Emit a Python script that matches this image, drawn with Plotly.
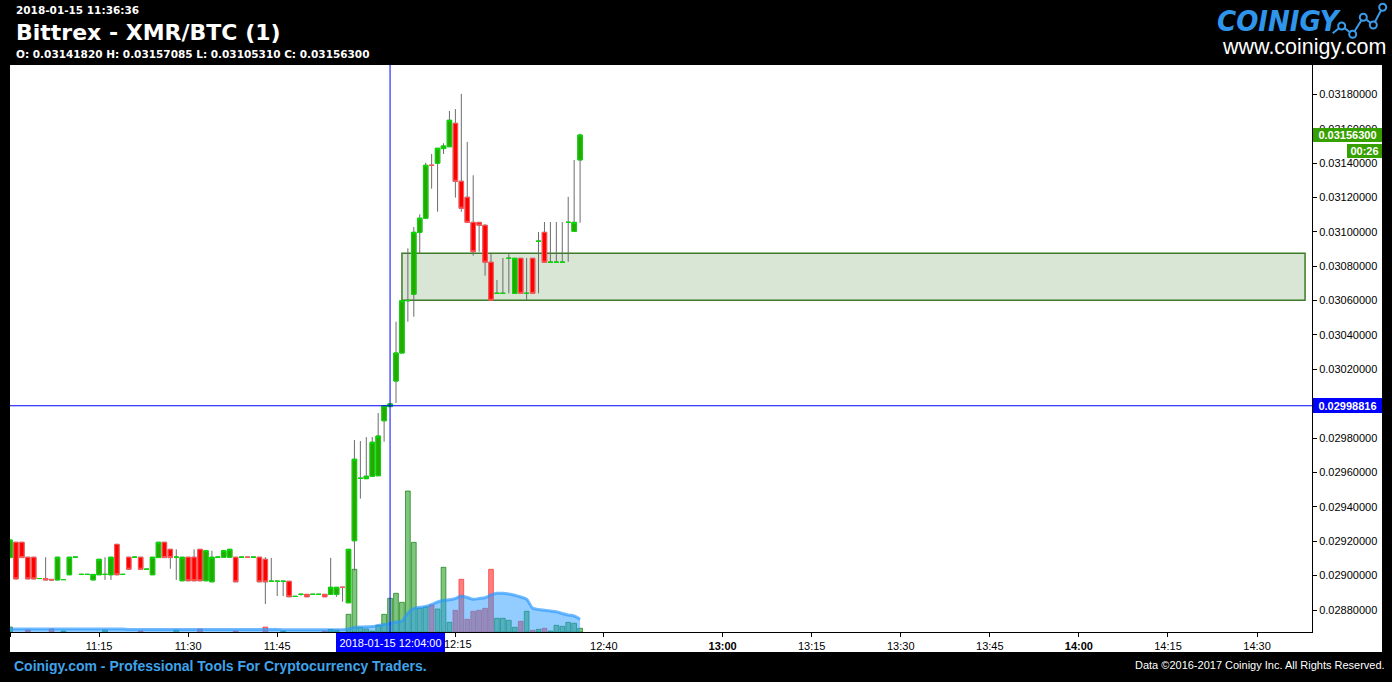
import pandas as pd
import plotly.graph_objects as go

# ---- 1-minute candles, Bittrex XMR/BTC, 2018-01-15 11:00 .. 12:36 ----
times = pd.date_range("2018-01-15 11:00", periods=97, freq="min")

opens = [
    0.029105, 0.029194, 0.029194, 0.029107, 0.029107, 0.028983, 0.028983, 0.028978, 0.028975, 0.028977,  # 11:00
    0.029005, 0.029107, 0.029007, 0.029007, 0.028975, 0.029005, 0.029007, 0.029005, 0.029182, 0.029007,  # 11:10
    0.029107, 0.029107, 0.029107, 0.029037, 0.029005, 0.029105, 0.029194, 0.029153, 0.029107, 0.028970,  # 11:20
    0.029107, 0.029107, 0.029153, 0.028970, 0.028964, 0.029107, 0.029107, 0.029107, 0.029107, 0.029107,  # 11:30
    0.029108, 0.029107, 0.029107, 0.029095, 0.028967, 0.028967, 0.028967, 0.028967, 0.028879, 0.028891,  # 11:40
    0.028891, 0.028891, 0.028891, 0.028891, 0.028891, 0.028891, 0.028933, 0.028842, 0.029203, 0.029566,  # 11:50
    0.029564, 0.029578, 0.029581, 0.029901, 0.029983, 0.030132, 0.030295, 0.030599, 0.030637, 0.030997,  # 12:00
    0.031079, 0.031388, 0.031399, 0.031484, 0.031495, 0.031631, 0.031294, 0.031201, 0.031055, 0.031055,  # 12:10
    0.031038, 0.030823, 0.030642, 0.030642, 0.030846, 0.030642, 0.030846, 0.030642, 0.030846, 0.030945,  # 12:20
    0.030997, 0.030823, 0.030823, 0.030823, 0.031055, 0.031003, 0.0314182,                              # 12:30
]
highs = [
    0.029207, 0.029194, 0.029194, 0.029107, 0.029107, 0.028983, 0.029107, 0.028978, 0.029107, 0.028977,
    0.029107, 0.029107, 0.029007, 0.029007, 0.029007, 0.029095, 0.029107, 0.029107, 0.029182, 0.029007,
    0.029107, 0.029107, 0.029107, 0.029037, 0.029107, 0.029194, 0.029194, 0.029153, 0.029153, 0.029107,
    0.029107, 0.029153, 0.029153, 0.029145, 0.029145, 0.029107, 0.029145, 0.029153, 0.029107, 0.029107,
    0.029108, 0.029107, 0.029107, 0.029107, 0.029103, 0.028967, 0.028967, 0.028967, 0.028879, 0.028891,
    0.028891, 0.028891, 0.028891, 0.028891, 0.029103, 0.028932, 0.028933, 0.029153, 0.029789, 0.029783,
    0.029806, 0.029806, 0.029946, 0.029987, 0.030002, 0.030477, 0.030599, 0.030904, 0.031028, 0.031102,
    0.031402, 0.031453, 0.031486, 0.031515, 0.031703, 0.031714, 0.031802, 0.031523, 0.031329, 0.031055,
    0.031044, 0.030875, 0.030720, 0.030848, 0.030875, 0.030846, 0.030846, 0.030848, 0.030846, 0.030999,
    0.031057, 0.031057, 0.031057, 0.031057, 0.031204, 0.031418, 0.03157085,
]
lows = [
    0.029105, 0.028981, 0.029105, 0.028981, 0.028981, 0.028983, 0.028975, 0.028975, 0.028975, 0.028977,
    0.029005, 0.029107, 0.029007, 0.029007, 0.028975, 0.029005, 0.028975, 0.028975, 0.029005, 0.029007,
    0.029037, 0.029107, 0.029037, 0.029037, 0.029005, 0.029105, 0.029105, 0.029040, 0.028975, 0.028970,
    0.028970, 0.028970, 0.028970, 0.028970, 0.028964, 0.029107, 0.029107, 0.029107, 0.028964, 0.029107,
    0.029106, 0.029107, 0.028964, 0.028835, 0.028967, 0.028881, 0.028881, 0.028877, 0.028879, 0.028883,
    0.028877, 0.028891, 0.028891, 0.028877, 0.028891, 0.028877, 0.028848, 0.028842, 0.029029, 0.029448,
    0.029564, 0.029578, 0.029581, 0.029779, 0.029983, 0.030004, 0.030295, 0.030477, 0.030506, 0.030875,
    0.031079, 0.031251, 0.031117, 0.031453, 0.031495, 0.031199, 0.031117, 0.031055, 0.030861, 0.030884,
    0.030745, 0.030602, 0.030642, 0.030642, 0.030642, 0.030642, 0.030642, 0.030603, 0.030642, 0.030642,
    0.030823, 0.030823, 0.030823, 0.030823, 0.030826, 0.031003, 0.0310531,
]
closes = [
    0.029207, 0.028981, 0.029105, 0.028981, 0.028981, 0.028983, 0.028975, 0.028975, 0.029107, 0.028977,
    0.029107, 0.029107, 0.029007, 0.029007, 0.029007, 0.029095, 0.029007, 0.029107, 0.029005, 0.029007,
    0.029037, 0.029107, 0.029037, 0.029037, 0.029107, 0.029194, 0.029105, 0.029105, 0.029107, 0.029107,
    0.028970, 0.028970, 0.028970, 0.029145, 0.029107, 0.029107, 0.029145, 0.029153, 0.028964, 0.029107,
    0.029106, 0.029107, 0.028964, 0.028964, 0.028967, 0.028967, 0.028967, 0.028877, 0.028879, 0.028891,
    0.028877, 0.028891, 0.028891, 0.028877, 0.028932, 0.028932, 0.028931, 0.029153, 0.029677, 0.029566,
    0.029578, 0.029776, 0.029812, 0.029987, 0.029999, 0.030295, 0.030599, 0.030601, 0.030997, 0.031079,
    0.031387, 0.031386, 0.031486, 0.031499, 0.031649, 0.031294, 0.031137, 0.031055, 0.030884, 0.031038,
    0.030823, 0.030602, 0.030642, 0.030642, 0.030846, 0.030846, 0.030642, 0.030642, 0.030642, 0.030945,
    0.030823, 0.030823, 0.030823, 0.030823, 0.031055, 0.031055, 0.031563,
]

# traded volume per minute and its moving average
volumes = [
    5, 0, 0, 2, 0, 0, 0, 3, 0, 1,
    0, 0, 0, 0, 0, 0, 2, 0, 0, 0,
    0, 0, 1, 0, 0, 0, 0, 0, 2, 0,
    0, 0, 3, 0, 0, 0, 0, 0, 1, 0,
    0, 0, 0, 5, 0, 0, 1, 0, 0, 0,
    0, 0, 0, 1, 2.5, 2, 0, 17.7, 62.7, 4.7,
    3, 1, 6.7, 17.7, 33.7, 38.7, 29.7, 141, 89.7, 23.7,
    25, 27, 23, 64.7, 9.7, 21.7, 52.7, 12.7, 20.7, 21.7,
    23.7, 62.7, 13.7, 13.7, 11.7, 4.7, 10.7, 20.7, 1.7, 2.7,
    3.7, 1, 6.7, 5.7, 9.7, 8.7, 3.7,
]
volume_ma = [
    3, 3, 3, 3, 3, 3, 3, 3, 3, 3,
    3, 3, 3, 3, 3, 3, 3, 3, 3, 3,
    2.6, 2.6, 2.6, 2.6, 2.6, 2.6, 2.6, 2.6, 2.6, 2.6,
    2.6, 2.6, 2.6, 2.6, 2.6, 2.6, 2.6, 2.6, 2.6, 2.6,
    2.6, 2.6, 2.6, 2.6, 2.6, 2.6, 2.2, 2.2, 2.2, 2.2,
    2.2, 2.2, 2.2, 2.2, 2.2, 2.2, 2.2, 3, 4.5, 5,
    5.3, 5.5, 6.5, 7.5, 8.5, 10, 11, 19, 23.5, 24.7,
    25.5, 27.5, 30, 31.7, 32.2, 33.5, 36, 34.5, 32.7, 33.5,
    34.3, 37, 38.7, 38.7, 38, 36.7, 35, 32.7, 24, 22.5,
    21.7, 21, 20.3, 18.5, 17, 16, 12.7,
]

price_ticks = [0.0288, 0.0290, 0.0292, 0.0294, 0.0296, 0.0298, 0.0300, 0.0302,
               0.0304, 0.0306, 0.0308, 0.0310, 0.0312, 0.0314, 0.0316, 0.0318]
time_ticks = ["2018-01-15 11:00", "2018-01-15 11:15", "2018-01-15 11:30", "2018-01-15 11:45",
              "2018-01-15 12:15", "2018-01-15 12:40", "2018-01-15 13:00",
              "2018-01-15 13:15", "2018-01-15 13:30", "2018-01-15 13:45", "2018-01-15 14:00",
              "2018-01-15 14:15", "2018-01-15 14:30"]
# the 12:15 label is pushed right of the crosshair readout, so it is drawn separately
time_tick_text = ["11:00", "11:15", "11:30", "11:45", "", "12:40",
                  "<b>13:00</b>", "13:15", "13:30", "13:45", "<b>14:00</b>", "14:15", "14:30"]
shifted_tick_label = "12:15"

# support zone drawn on the chart
zone_start, zone_end = "2018-01-15 12:06:00", "2018-01-15 14:38:05"
zone_low, zone_high = 0.030602, 0.030875

# crosshair and last-price markers
cross_time = "2018-01-15 12:04:00"
cross_price = 0.02998816
last_price = 0.031563
countdown = "00:26"

header_time = "2018-01-15 11:36:36"
title = "Bittrex - XMR/BTC (1)"
ohlc_line = "O: 0.03141820 H: 0.03157085 L: 0.03105310 C: 0.03156300"

# ---- page geometry ----
W, H = 1392, 682
ML, MR, MT, MB = 10, 80, 65, 50
PW, PH = W - ML - MR, H - MT - MB


def px_x(px):
    return (px - ML) / PW


def px_y(py):
    return (H - MB - py) / PH


GREEN_FILL, GREEN_EDGE = "#27a800", "#00e000"
RED_FILL, RED_EDGE = "#ff0000", "#ff5a5a"
WICK = "#6c6c6c"
AXIS_FONT = dict(family="Liberation Sans, Arial, sans-serif", size=11, color="black")

up = [c >= o for o, c in zip(opens, closes)]

fig = go.Figure()

# volume bars (secondary, hidden scale)
fig.add_trace(go.Bar(
    x=times, y=[v if v > 0 else None for v in volumes], width=48000,
    marker=dict(color=["rgba(0,140,0,0.5)" if u else "rgba(255,0,0,0.5)" for u in up],
                line=dict(color=["rgba(0,120,0,0.65)" if u else "rgba(255,40,40,0.65)" for u in up], width=1)),
    yaxis="y", hoverinfo="skip",
))
fig.add_trace(go.Scatter(
    x=times, y=volume_ma, mode="lines", fill="tozeroy",
    fillcolor="rgba(40,155,255,0.5)",
    line=dict(color="rgba(40,150,255,0.65)", width=3, shape="spline"),
    yaxis="y", hoverinfo="skip",
))

# wicks: full high/low range in grey
clear = "rgba(0,0,0,0)"
fig.add_trace(go.Candlestick(
    x=times, open=opens, high=highs, low=lows, close=closes,
    increasing=dict(line=dict(color=WICK, width=1), fillcolor=clear),
    decreasing=dict(line=dict(color=WICK, width=1), fillcolor=clear),
    whiskerwidth=0, yaxis="y2", hoverinfo="skip",
))

# bodies on top of the wicks
for want_up, fill, edge in ((True, GREEN_FILL, GREEN_EDGE), (False, RED_FILL, RED_EDGE)):
    idx = [i for i, u in enumerate(up) if u == want_up]
    o = [opens[i] for i in idx]
    c = [closes[i] for i in idx]
    fig.add_trace(go.Candlestick(
        x=[times[i] for i in idx], open=o, close=c,
        high=[max(a, b) for a, b in zip(o, c)], low=[min(a, b) for a, b in zip(o, c)],
        increasing=dict(line=dict(color=edge, width=1), fillcolor=fill),
        decreasing=dict(line=dict(color=edge, width=1), fillcolor=fill),
        whiskerwidth=0, yaxis="y2", hoverinfo="skip",
    ))

shapes = [
    # white chart panel including the axis label strips
    dict(type="rect", xref="paper", yref="paper", x0=0, x1=px_x(1382), y0=px_y(652), y1=1,
         fillcolor="white", line=dict(width=0), layer="below"),
    dict(type="rect", xref="x", yref="y2", x0=zone_start, x1=zone_end, y0=zone_low, y1=zone_high,
         fillcolor="#d9e5d5", line=dict(color="#3b7a26", width=1.5), layer="below"),
    dict(type="line", xref="x", yref="paper", x0=cross_time, x1=cross_time, y0=0, y1=1,
         line=dict(color="#0000ff", width=1), layer="above"),
    dict(type="line", xref="paper", yref="y2", x0=0, x1=1, y0=cross_price, y1=cross_price,
         line=dict(color="#0000ff", width=1), layer="above"),
]

# logo sparkline
logo_pts = [(1332.7, 33.3), (1341.7, 26), (1352.7, 34.3), (1363.3, 17.3), (1373.3, 25), (1382.7, 7.3)]
path = "M " + " L ".join(f"{px_x(a):.5f},{px_y(b):.5f}" for a, b in logo_pts)
shapes.append(dict(type="path", xref="paper", yref="paper", path=path,
                   line=dict(color="#3b9be8", width=2)))
for a, b in logo_pts[1:]:
    shapes.append(dict(type="circle", xref="paper", yref="paper",
                       x0=px_x(a - 3.5), x1=px_x(a + 3.5), y0=px_y(b + 3.5), y1=px_y(b - 3.5),
                       fillcolor="black", line=dict(color="#3b9be8", width=2)))

white = "white"
annotations = [
    dict(text=header_time, x=px_x(14), y=px_y(10.5), xanchor="left", yanchor="middle",
         font=dict(family="DejaVu Sans", size=10.5, weight="bold", color=white)),
    dict(text=title, x=px_x(14), y=px_y(32), xanchor="left", yanchor="middle",
         font=dict(family="DejaVu Sans", size=22, weight="bold", color=white)),
    dict(text=ohlc_line, x=px_x(14), y=px_y(54.5), xanchor="left", yanchor="middle",
         font=dict(family="DejaVu Sans", size=10.5, weight="bold", color=white)),
    dict(text="COINIGY", x=px_x(1215), y=px_y(21), xanchor="left", yanchor="middle",
         font=dict(family="DejaVu Sans Condensed, Liberation Sans", size=29,
                   weight="bold", style="italic", color="#2f95ea")),
    dict(text="www.coinigy.com", x=px_x(1388), y=px_y(47), xanchor="right", yanchor="middle",
         font=dict(family="Liberation Sans, Arial", size=21.5, color=white)),
    dict(text="Coinigy.com - Professional Tools For Cryptocurrency Traders.", x=px_x(12), y=px_y(666),
         xanchor="left", yanchor="middle",
         font=dict(family="Liberation Sans, Arial", size=14, weight="bold", color="#3fa3ea")),
    dict(text="Data \u00a92016-2017 Coinigy Inc. All Rights Reserved.", x=px_x(1387), y=px_y(665),
         xanchor="right", yanchor="middle",
         font=dict(family="Liberation Sans, Arial", size=11, color=white)),
    # x label displaced by the crosshair readout
    dict(text=shifted_tick_label, x=px_x(444), y=px_y(644), xanchor="left", yanchor="middle",
         borderpad=0, borderwidth=0, font=AXIS_FONT),
    # last price + countdown
    dict(text=f"{last_price:.8f}", x=px_x(1313), xref="paper", y=last_price, yref="y2",
         xanchor="left", yanchor="middle", width=69, height=14, borderpad=0, borderwidth=0,
         bgcolor="#36a000", font=dict(family="Liberation Sans, Arial", size=11, weight="bold", color=white)),
    dict(text=countdown, x=px_x(1382), xref="paper", y=last_price, yref="y2", yshift=-16,
         xanchor="right", yanchor="middle", width=35, height=14, borderpad=0, borderwidth=0,
         bgcolor="#36a000", font=dict(family="Liberation Sans, Arial", size=11, weight="bold", color=white)),
    # crosshair readouts
    dict(text=f"{cross_price:.8f}", x=px_x(1313), xref="paper", y=cross_price, yref="y2",
         xanchor="left", yanchor="middle", width=69, height=15, borderpad=0, borderwidth=0,
         bgcolor="#0000ff", font=dict(family="Liberation Sans, Arial", size=11, weight="bold", color=white)),
    dict(text=cross_time, x=cross_time, xref="x", y=px_y(633), yref="paper",
         xanchor="center", yanchor="top", width=109, height=19, borderpad=0, borderwidth=0,
         bgcolor="#0000ff", font=dict(family="Liberation Sans, Arial", size=11, color=white)),
]
for a in annotations:
    a.setdefault("xref", "paper")
    a.setdefault("yref", "paper")
    a.setdefault("showarrow", False)

fig.update_layout(
    width=W, height=H, autosize=False,
    margin=dict(l=ML, r=MR, t=MT, b=MB),
    paper_bgcolor="black", plot_bgcolor="white",
    showlegend=False, hovermode=False,
    boxmode="overlay", boxgap=0.25, boxgroupgap=0,
    xaxis=dict(type="date", range=["2018-01-15 11:00:00", "2018-01-15 14:39:15"],
               rangeslider=dict(visible=False), showgrid=False, zeroline=False,
               showline=True, linecolor="black", linewidth=1,
               ticks="outside", ticklen=4, tickcolor="black",
               tickvals=time_ticks, ticktext=time_tick_text, tickfont=AXIS_FONT),
    yaxis=dict(range=[0, 567], visible=False, fixedrange=True),
    yaxis2=dict(overlaying="y", side="right", range=[0.028672, 0.0319704],
                showgrid=False, zeroline=False, showline=True, linecolor="black", linewidth=1,
                ticks="outside", ticklen=4, tickcolor="black",
                tickvals=price_ticks, tickformat=".8f", tickfont=AXIS_FONT),
    shapes=shapes, annotations=annotations,
)

fig.write_html("out.html")
